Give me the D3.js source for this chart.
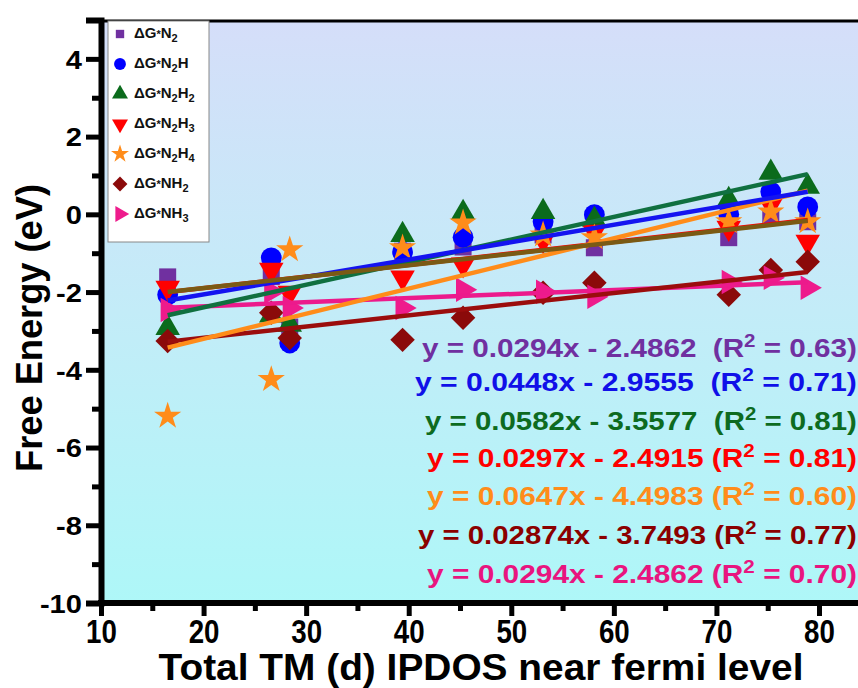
<!DOCTYPE html>
<html><head><meta charset="utf-8">
<script src="https://cdn.jsdelivr.net/npm/d3@7"></script>
<style>body{margin:0;background:#fff}svg{display:block}</style>
</head><body>
<svg id="c" width="858" height="688"></svg>
<script>
// ---------------- DATA ----------------
const xVals = [16.5, 26.6, 28.4, 39.4, 45.3, 53.1, 58.1, 71.2, 75.3, 78.9];
const seriesN2   = [-1.61, -1.60, -2.90, -0.95, -0.84, -0.53, -0.86, -0.60, -0.06, -0.19];
const seriesN2H  = [-2.07, -1.12, -3.31, -0.97, -0.59, -0.19, -0.01,  0.00,  0.58,  0.19];
const seriesN2H2 = [-2.92, -2.60, -2.84, -0.53,  0.04,  0.06, -0.14,  0.37,  1.07,  0.71];
const seriesN2H3 = [-1.89, -1.43, -2.02, -1.63, -1.29, -0.66, -0.45, -0.35,  0.24, -0.71];
const seriesN2H4 = [-5.19, -4.25, -0.91, -0.86, -0.22, -0.53, -0.60, -0.19,  0.06, -0.19];
const seriesNH2  = [-3.26, -2.53, -3.18, -3.23, -2.66, -2.02, -1.76, -2.07, -1.43, -1.22];
const seriesNH3  = [-2.46, -1.99, -2.41, -2.41, -1.94, -1.99, -2.12, -1.74, -1.63, -1.89];
const seriesNames = ["N2", "N2H", "N2H2", "N2H3", "N2H4", "NH2", "NH3"];
const fitSlopes     = [0.0294, 0.0448, 0.0582, 0.0297, 0.0647, 0.02874, null];
const fitIntercepts = [-2.4862, -2.9555, -3.5577, -2.4915, -4.4983, -3.7493, null];
const eqSlopeLabels     = ["0.0294", "0.0448", "0.0582", "0.0297", "0.0647", "0.02874", "0.0294"];
const eqInterceptLabels = ["2.4862", "2.9555", "3.5577", "2.4915", "4.4983", "3.7493", "2.4862"];
const eqR2Labels        = ["0.63", "0.71", "0.81", "0.81", "0.60", "0.77", "0.70"];
const xTicks = [10, 20, 30, 40, 50, 60, 70, 80];
const yTicks = [-10, -8, -6, -4, -2, 0, 2, 4];
const xLabel = "Total TM (d) IPDOS near fermi level";
const yLabel = "Free Energy (eV)";

// ---------------- STYLE ----------------
const allSeries = [seriesN2, seriesN2H, seriesN2H2, seriesN2H3, seriesN2H4, seriesNH2, seriesNH3];
const markerColors = ["#7030a0", "#0000ff", "#0b6b1c", "#ff0000", "#ff8c1a", "#8b0a0a", "#ee1b8c"];
const lineColors   = ["#7a5a14", "#1414f0", "#107040", "#ff0000", "#ff8c1a", "#9b0d0d", "#ec1a8c"];
const eqColors     = ["#7030a0", "#1010e8", "#0d6b1f", "#ff0000", "#ff8c1a", "#8b0000", "#e8157f"];
const symTypes = [d3.symbolSquare, d3.symbolCircle, d3.symbolTriangle, d3.symbolTriangle, d3.symbolStar, d3.symbolSquare, d3.symbolTriangle];
const symRot   = [0, 0, 0, 180, 0, 45, 90];
const symSize  = [290, 340, 260, 260, 230, 300, 260];
const FONT = "'Liberation Sans', Arial, Helvetica, sans-serif";

const svg = d3.select("#c");
const x = d3.scaleLinear().domain([10, 80]).range([101, 819]);
const y = d3.scaleLinear().domain([-10, 5]).range([603, 20]);

// background gradient
const defs = svg.append("defs");
const grad = defs.append("linearGradient").attr("id", "bg").attr("x1", 0).attr("y1", 0).attr("x2", 0).attr("y2", 1);
grad.append("stop").attr("offset", "0%").attr("stop-color", "#d5def9");
grad.append("stop").attr("offset", "50%").attr("stop-color", "#c3ecf8");
grad.append("stop").attr("offset", "100%").attr("stop-color", "#aef7f8");
svg.append("rect").attr("x", x(10)).attr("y", y(5)).attr("width", 880 - x(10)).attr("height", y(-10) - y(5)).attr("fill", "url(#bg)");

// markers
allSeries.forEach((vals, si) => {
  const sym = d3.symbol().type(symTypes[si]).size(symSize[si]);
  svg.append("g").selectAll("path").data(vals).join("path")
    .attr("d", sym)
    .attr("transform", (d, i) => `translate(${x(xVals[i])},${y(d)}) rotate(${symRot[si]})`)
    .attr("fill", markerColors[si]);
});

// fit lines
function fitFor(si) {
  if (fitSlopes[si] !== null) return [fitSlopes[si], fitIntercepts[si]];
  const vals = allSeries[si];
  const mx = d3.mean(xVals), my = d3.mean(vals);
  let sxy = 0, sxx = 0;
  xVals.forEach((xv, i) => { sxy += (xv - mx) * (vals[i] - my); sxx += (xv - mx) * (xv - mx); });
  const b = sxy / sxx;
  return [b, my - b * mx];
}
const lineOrder = [3, 6, 5, 4, 2, 1, 0];
const x0 = d3.min(xVals), x1 = d3.max(xVals);
lineOrder.forEach(si => {
  const [b, a] = fitFor(si);
  svg.append("line")
    .attr("x1", x(x0)).attr("y1", y(a + b * x0))
    .attr("x2", x(x1)).attr("y2", y(a + b * x1))
    .attr("stroke", lineColors[si]).attr("stroke-width", 4.5);
});

// top border
svg.append("line").attr("x1", 97).attr("x2", 870).attr("y1", y(5) + 1).attr("y2", y(5) + 1).attr("stroke", "#000").attr("stroke-width", 3);

// axes
const fmt = d => String(d);
const yAxis = d3.axisLeft(y).tickValues(yTicks).tickSize(15).tickFormat(fmt);
const yMinor = d3.axisLeft(y).tickValues(d3.range(-9, 5, 2)).tickSize(9).tickFormat("");
const gy = svg.append("g").attr("transform", `translate(${x(10)},0)`).call(yAxis);
svg.append("g").attr("transform", `translate(${x(10)},0)`).call(yMinor).call(g => g.select(".domain").remove())
  .selectAll("line").attr("stroke", "#000").attr("stroke-width", 5);
gy.select(".domain").attr("stroke", "#000").attr("stroke-width", 6);
gy.selectAll(".tick line").attr("stroke", "#000").attr("stroke-width", 5);
gy.selectAll(".tick text").attr("font-family", FONT).attr("font-weight", "bold").attr("font-size", 26).attr("fill", "#000")
  .attr("x", 0).attr("dy", "0.36em")
  .attr("transform", "translate(-19,0) scale(1.12,1)");

const xAxis = d3.axisBottom(x).tickValues(xTicks).tickSize(13).tickFormat(fmt);
const xMinor = d3.axisBottom(x).tickValues(d3.range(15, 85, 10)).tickSize(8).tickFormat("");
const gx = svg.append("g").attr("transform", `translate(0,${y(-10)})`).call(xAxis);
svg.append("g").attr("transform", `translate(0,${y(-10)})`).call(xMinor).call(g => g.select(".domain").remove())
  .selectAll("line").attr("stroke", "#000").attr("stroke-width", 5);
gx.select(".domain").attr("stroke", "#000").attr("stroke-width", 6).attr("d", `M${x(10) - 3},0H880`);
gx.selectAll(".tick line").attr("stroke", "#000").attr("stroke-width", 5);
gx.selectAll(".tick text").attr("font-family", FONT).attr("font-weight", "bold").attr("font-size", 33).attr("fill", "#000")
  .attr("y", 0).attr("dy", 0)
  .attr("transform", "translate(0,40) scale(0.84,1)");

// axis labels (stretched to match)
function fitText(sel, targetW) {
  const w = sel.node().getComputedTextLength();
  return targetW / w;
}
const xl = svg.append("text").text(xLabel).attr("font-family", FONT).attr("font-weight", "bold")
  .attr("font-size", 37).attr("text-anchor", "middle").attr("fill", "#000");
const sxl = fitText(xl, 645);
xl.attr("transform", `translate(481,680) scale(${sxl},1)`);

const yl = svg.append("text").text(yLabel).attr("font-family", FONT).attr("font-weight", "bold")
  .attr("font-size", 36).attr("text-anchor", "middle").attr("fill", "#000");
const syl = fitText(yl, 288);
yl.attr("transform", `translate(42,328) rotate(-90) scale(${syl},1)`);

// legend
const lg = svg.append("g");
lg.append("rect").attr("x", 108).attr("y", 21).attr("width", 101).attr("height", 221)
  .attr("fill", "#fff").attr("stroke", "#888").attr("stroke-width", 1);
const legSizes = [70, 110, 110, 110, 100, 110, 110];
seriesNames.forEach((nm, si) => {
  const cy = 34 + si * 30;
  lg.append("path").attr("d", d3.symbol().type(symTypes[si]).size(legSizes[si]))
    .attr("transform", `translate(120,${cy}) rotate(${symRot[si]})`).attr("fill", markerColors[si]);
  const t = lg.append("text").attr("x", 134).attr("y", cy + 4).attr("font-family", FONT)
    .attr("font-weight", "bold").attr("font-size", 15).attr("fill", "#111");
  t.append("tspan").text("ΔG");
  t.append("tspan").text("*").attr("font-size", 11);
  let sub = false;
  for (const ch of nm) {
    const isDigit = /[0-9]/.test(ch);
    const ts = t.append("tspan").text(ch);
    if (isDigit && !sub) { ts.attr("dy", 4).attr("font-size", 11); sub = true; }
    else if (isDigit) { ts.attr("font-size", 11); }
    else if (sub) { ts.attr("dy", -4); sub = false; }
  }
});

// equations
const eqLeft = [422, 415, 425, 427, 427, 418, 427];
const eqBase = [357, 391, 430, 467, 505, 544, 583];
const eqGap  = ["  ", "  ", "  ", " ", " ", " ", " "];
seriesNames.forEach((nm, si) => {
  const t = svg.append("text").attr("font-family", FONT).attr("font-weight", "bold")
    .attr("font-size", 26).attr("fill", eqColors[si]).attr("xml:space", "preserve").style("white-space", "pre");
  t.append("tspan").text(`y = ${eqSlopeLabels[si]}x - ${eqInterceptLabels[si]}${eqGap[si]}(R`);
  t.append("tspan").text("2").attr("font-size", 18).attr("dy", -10);
  t.append("tspan").text(` = ${eqR2Labels[si]})`).attr("dy", 10);
  const w = t.node().getComputedTextLength();
  const s = (857 - eqLeft[si]) / w;
  t.attr("transform", `translate(${eqLeft[si]},${eqBase[si]}) scale(${s},1)`);
});
</script>
</body></html>
